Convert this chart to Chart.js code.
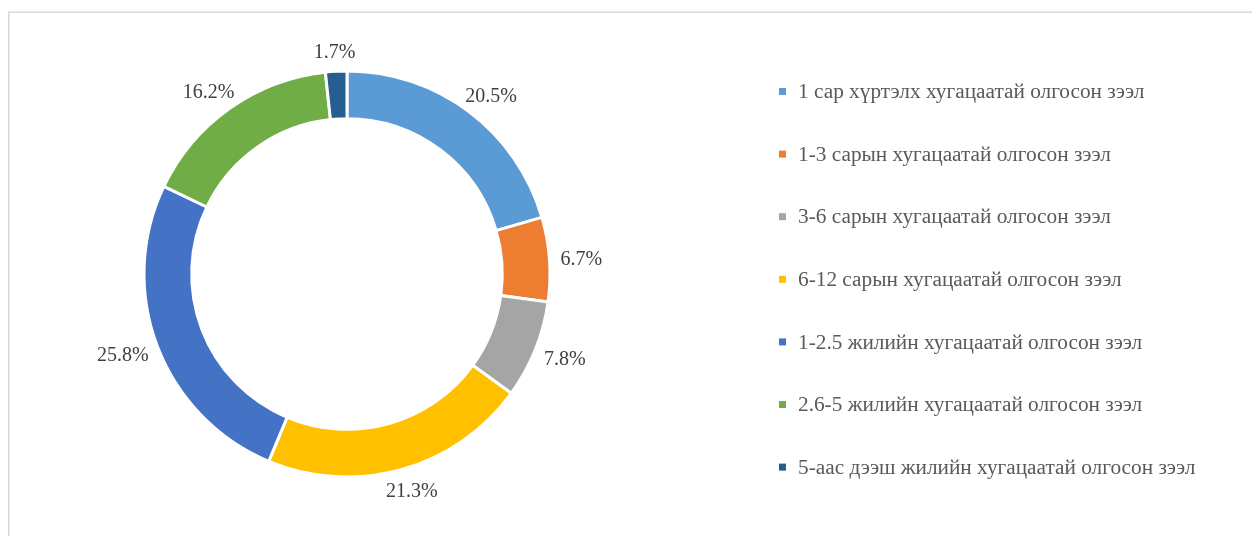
<!DOCTYPE html>
<html>
<head>
<meta charset="utf-8">
<script src="https://cdn.jsdelivr.net/npm/chart.js@4.4.0/dist/chart.umd.min.js"></script>
<style>
  html, body { margin: 0; padding: 0; background: #ffffff; }
  #wrap { position: relative; width: 1252px; height: 536px; }
</style>
</head>
<body>
<div id="wrap"><canvas id="c" width="1252" height="536"></canvas></div>
<script>
const categories = [
  "1 сар хүртэлх хугацаатай олгосон зээл",
  "1-3 сарын хугацаатай олгосон зээл",
  "3-6 сарын хугацаатай олгосон зээл",
  "6-12 сарын хугацаатай олгосон зээл",
  "1-2.5 жилийн хугацаатай олгосон зээл",
  "2.6-5 жилийн хугацаатай олгосон зээл",
  "5-аас дээш жилийн хугацаатай олгосон зээл"
];
const shares = [20.5, 6.7, 7.8, 21.3, 25.8, 16.2, 1.7];
const colors = ["#5B9BD5", "#ED7D31", "#A5A5A5", "#FFC000", "#4472C4", "#70AD47", "#255E91"];

const FONT = "'Liberation Serif', 'Times New Roman', serif";

const framePlugin = {
  id: 'frame',
  beforeDraw(chart) {
    const ctx = chart.ctx;
    ctx.save();
    ctx.strokeStyle = '#D9D9D9';
    ctx.lineWidth = 1.5;
    ctx.beginPath();
    ctx.moveTo(8.75, 540);
    ctx.lineTo(8.75, 12.25);
    ctx.lineTo(1260, 12.25);
    ctx.stroke();
    ctx.restore();
  }
};

const labelPlugin = {
  id: 'outLabels',
  afterDatasetsDraw(chart) {
    const ctx = chart.ctx;
    const meta = chart.getDatasetMeta(0);
    ctx.save();
    ctx.font = '20px ' + FONT;
    ctx.fillStyle = '#404040';
    ctx.textAlign = 'center';
    ctx.textBaseline = 'middle';
    meta.data.forEach((arc, i) => {
      const p = arc.getProps(['x', 'y', 'startAngle', 'endAngle', 'outerRadius']);
      const mid = (p.startAngle + p.endAngle) / 2;
      const txt = shares[i].toFixed(1) + '%';
      const w = ctx.measureText(txt).width;
      const h = 20;
      const c = Math.cos(mid), s = Math.sin(mid);
      const d = p.outerRadius + 11;
      const px = p.x + c * d, py = p.y + s * d;
      ctx.fillText(txt, px + c * w / 2, py + s * h / 2 + 2);
    });
    ctx.restore();
  }
};

const legendPlugin = {
  id: 'sideLegend',
  afterDraw(chart) {
    const ctx = chart.ctx;
    ctx.save();
    ctx.font = '21.3px ' + FONT;
    ctx.textBaseline = 'middle';
    ctx.textAlign = 'left';
    const x0 = 779, y0 = 91.5, step = 62.6;
    categories.forEach((name, i) => {
      const y = y0 + i * step;
      ctx.fillStyle = colors[i];
      ctx.fillRect(x0, y - 3.5, 7, 7);
      ctx.fillStyle = '#595959';
      ctx.fillText(name, x0 + 19, y + 1);
    });
    ctx.restore();
  }
};

new Chart(document.getElementById('c'), {
  type: 'doughnut',
  data: {
    labels: categories,
    datasets: [{
      data: shares,
      backgroundColor: colors,
      borderColor: '#ffffff',
      borderWidth: 3,
      hoverOffset: 0
    }]
  },
  options: {
    responsive: false,
    animation: false,
    radius: 203,
    cutout: '76.5%',
    rotation: 0,
    layout: { padding: { left: 0, right: 558, top: 12, bottom: 0 } },
    plugins: {
      legend: { display: false },
      tooltip: { enabled: false }
    }
  },
  plugins: [framePlugin, labelPlugin, legendPlugin]
});
</script>
</body>
</html>
